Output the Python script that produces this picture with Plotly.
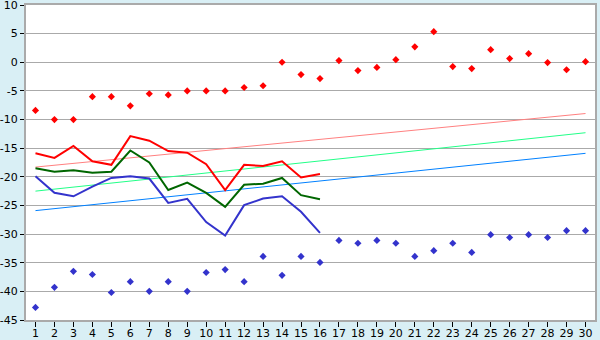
import plotly.graph_objects as go

x = list(range(1, 31))
x16 = list(range(1, 17))

red_points = [-8.4, -10.0, -10.0, -6.0, -6.0, -7.6, -5.5, -5.7, -5.0, -5.0,
              -5.0, -4.4, -4.1, 0.0, -2.15, -2.85, 0.3, -1.45, -0.9, 0.45,
              2.7, 5.35, -0.75, -1.1, 2.2, 0.65, 1.5, -0.05, -1.3, 0.1]
blue_points = [-42.8, -39.3, -36.5, -37.05, -40.2, -38.3, -40.0, -38.3, -40.0, -36.7,
               -36.2, -38.3, -33.9, -37.2, -33.9, -34.95, -31.1, -31.6, -31.1, -31.6,
               -33.9, -32.9, -31.6, -33.2, -30.1, -30.6, -30.1, -30.6, -29.4, -29.4]

red_line = [-15.9, -16.7, -14.6, -17.3, -17.9, -12.9, -13.7, -15.5, -15.8, -17.8,
            -22.3, -17.9, -18.1, -17.3, -20.1, -19.5]
green_line = [-18.5, -19.1, -18.85, -19.3, -19.1, -15.4, -17.5, -22.3, -21.0, -22.8,
              -25.25, -21.4, -21.2, -20.2, -23.2, -23.9]
blue_line = [-19.9, -22.8, -23.4, -21.7, -20.2, -19.9, -20.3, -24.55, -23.85, -27.9,
             -30.25, -24.95, -23.8, -23.4, -26.1, -29.8]

trend_x = [1, 30]
pink_trend = [-18.3, -8.95]
green_trend = [-22.5, -12.3]
blue_trend = [-25.9, -15.9]

y_ticks = [10, 5, 0, -5, -10, -15, -20, -25, -30, -35, -40, -45]

fig = go.Figure()
fig.add_trace(go.Scatter(x=trend_x, y=pink_trend, mode="lines",
                         line=dict(color="#FF8080", width=1)))
fig.add_trace(go.Scatter(x=trend_x, y=green_trend, mode="lines",
                         line=dict(color="#22FF88", width=1)))
fig.add_trace(go.Scatter(x=trend_x, y=blue_trend, mode="lines",
                         line=dict(color="#0080FF", width=1)))
fig.add_trace(go.Scatter(x=x16, y=red_line, mode="lines",
                         line=dict(color="#FF0000", width=2)))
fig.add_trace(go.Scatter(x=x16, y=green_line, mode="lines",
                         line=dict(color="#006600", width=2)))
fig.add_trace(go.Scatter(x=x16, y=blue_line, mode="lines",
                         line=dict(color="#3333CC", width=2)))
fig.add_trace(go.Scatter(x=x, y=red_points, mode="markers",
                         marker=dict(symbol="diamond", size=5.5, color="#FF0000")))
fig.add_trace(go.Scatter(x=x, y=blue_points, mode="markers",
                         marker=dict(symbol="diamond", size=5.5, color="#3333CC")))

fig.update_layout(
    width=600, height=340,
    margin=dict(l=26, r=5, t=5, b=20, autoexpand=False),
    paper_bgcolor="#D9EFF5",
    plot_bgcolor="#FFFFFF",
    showlegend=False,
    font=dict(family="DejaVu Sans", size=11, color="#000000"),
)
fig.update_xaxes(range=[0.5, 30.5], tickvals=x, ticktext=[str(v) for v in x],
                 showgrid=False, zeroline=False, ticks="outside", ticklen=5,
                 tickcolor="#000000", showline=True, linecolor="#AAAAAA",
                 linewidth=2, mirror=True, automargin=False,
                 ticklabeloverflow="allow", ticklabelstandoff=-3)
fig.update_yaxes(range=[-45, 10], tickvals=y_ticks, ticktext=[str(v) for v in y_ticks],
                 showgrid=True, gridcolor="#AAAAAA", gridwidth=1, zeroline=False,
                 ticks="outside", ticklen=4, tickcolor="#000000",
                 showline=True, linecolor="#AAAAAA", linewidth=2, mirror=True,
                 automargin=False, ticklabeloverflow="allow")

fig.write_html("out.html")
